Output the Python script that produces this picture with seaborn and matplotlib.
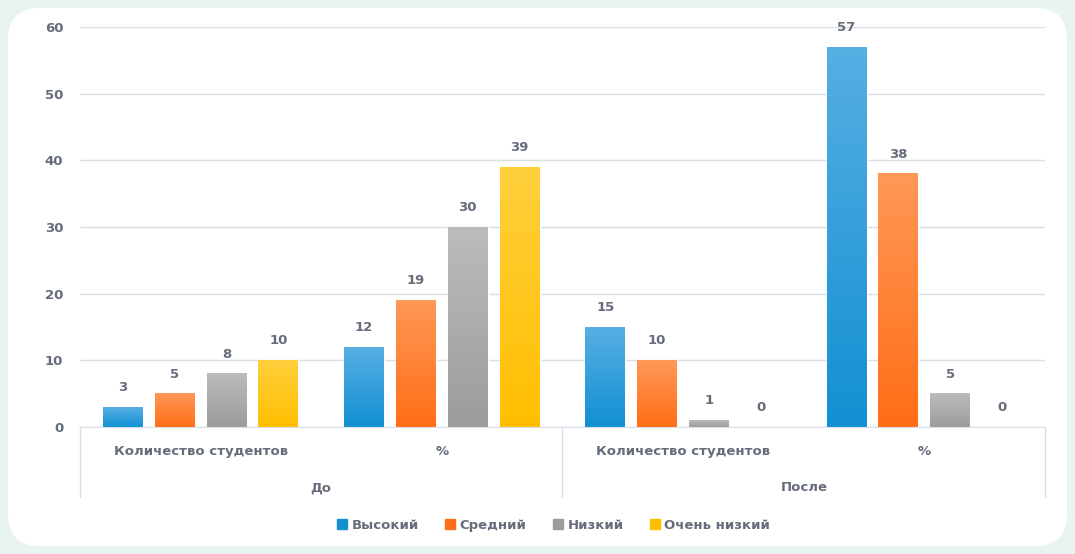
import numpy as np
import pandas as pd
import seaborn as sns
import matplotlib.pyplot as plt
from matplotlib.patches import FancyBboxPatch
from matplotlib.colors import LinearSegmentedColormap

# --- data ---
periods = ['До', 'После']
measures = ['Количество студентов', '%']
levels = ['Высокий', 'Средний', 'Низкий', 'Очень низкий']
high = [3, 12, 15, 57]
medium = [5, 19, 10, 38]
low = [8, 30, 1, 5]
very_low = [10, 39, 0, 0]

colors = ['#1290d2', '#ff6e16', '#9c9c9c', '#ffbf00']
light_colors = ['#56afe3', '#ff9856', '#bcbcbc', '#ffd03c']
text_color = '#656d7b'
grid_color = '#d9dfe8'
fs = 9.5

groups = [f'{p}|{m}' for p in periods for m in measures]
rows = []
for lvl, vals in zip(levels, [high, medium, low, very_low]):
    for g, v in zip(groups, vals):
        rows.append({'group': g, 'level': lvl, 'value': v})
df = pd.DataFrame(rows)

sns.set_style('white')
plt.rcParams['font.family'] = ['DejaVu Sans']
plt.rcParams['font.weight'] = 'bold'

fig = plt.figure(figsize=(10.75, 5.54), dpi=100)
fig.patch.set_facecolor('#e9f3f2')
# white rounded card behind everything
card = FancyBboxPatch((0.08, 0.08), 10.59, 5.38, boxstyle='round,pad=0,rounding_size=0.32',
                      transform=fig.dpi_scale_trans, facecolor='white', edgecolor='none', zorder=-5)
fig.patches.append(card)

ax = fig.add_axes([0.0744, 0.229, 0.8977, 0.722])
ax.set_facecolor('none')

sns.barplot(data=df, x='group', y='value', hue='level', order=groups, hue_order=levels,
            palette=colors, width=0.86, gap=0.23, saturation=1, ax=ax, legend=False)

ax.set_xlim(-0.5, len(groups) - 0.5)
ax.set_ylim(0, 60)
ax.set_yticks(range(0, 61, 10))
ax.yaxis.grid(True, color=grid_color, linewidth=1)
ax.set_axisbelow(True)
for s in ['top', 'right', 'left']:
    ax.spines[s].set_visible(False)
ax.spines['bottom'].set_color(grid_color)
ax.tick_params(axis='y', length=0, pad=12, labelsize=fs, labelcolor=text_color)
ax.set_xticks([])
ax.set_xlabel('')
ax.set_ylabel('')

# gradient fills + value labels
for i, cont in enumerate(ax.containers):
    cmap = LinearSegmentedColormap.from_list('g', [colors[i], light_colors[i]])
    for bar in cont:
        x0, y0 = bar.get_x(), bar.get_y()
        w, h = bar.get_width(), bar.get_height()
        if h > 0:
            grad = np.linspace(0, 1, 100).reshape(-1, 1)
            ax.imshow(grad, extent=(x0, x0 + w, y0, y0 + h), origin='lower', cmap=cmap,
                      aspect='auto', zorder=bar.get_zorder() + 0.1)
    ax.bar_label(cont, padding=9.5, fontsize=fs, color=text_color)
ax.set_xlim(-0.5, len(groups) - 0.5)
ax.set_ylim(0, 60)

# two-level category axis
tr = ax.get_xaxis_transform()
for i, g in enumerate(groups):
    ax.text(i, -0.06, g.split('|')[1], transform=tr, ha='center', va='center',
            fontsize=fs, color=text_color)
for j, p in enumerate(periods):
    ax.text(j * 2 + 0.5, -0.152, p, transform=tr, ha='center', va='center',
            fontsize=fs, color=text_color)
for xb in [-0.5, 1.5, 3.5]:
    ax.plot([xb, xb], [0, -0.175], transform=tr, color=grid_color, linewidth=1, clip_on=False)

# legend
handles = [plt.Line2D([], [], marker='s', linestyle='none', markersize=6.5,
                      markerfacecolor=c, markeredgecolor=c) for c in colors]
fig.legend(handles, levels, loc='center', bbox_to_anchor=(0.515, 0.052), ncol=4, frameon=False,
           fontsize=fs, labelcolor=text_color, handlelength=0.7, handletextpad=0.4,
           columnspacing=2.0)

fig.savefig('out.png', dpi=100, facecolor=fig.get_facecolor())
